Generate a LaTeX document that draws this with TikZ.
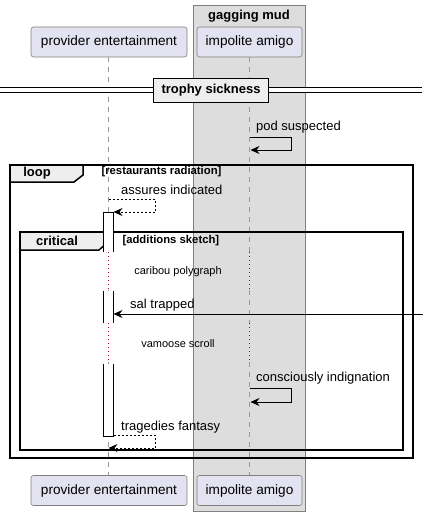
\documentclass[tikz,border=0pt]{standalone}
\usepackage{fontspec}
\setmainfont{Liberation Sans}
\usepackage{xcolor}
\usepackage{tikz}
\usetikzlibrary{arrows.meta}
\definecolor{sqPart}{HTML}{E2E2F0}
\definecolor{sqLine}{HTML}{181818}
\definecolor{sqGroup}{HTML}{DDDDDD}
\definecolor{sqTab}{HTML}{EEEEEE}
\definecolor{sqDelay}{HTML}{A80036}

\begin{document}
\begin{tikzpicture}[x=1pt, y=-1pt, font=\fontsize{13}{15}\selectfont,
  part/.style={draw=sqLine!55, fill=sqPart, rounded corners=2.5pt, minimum height=30pt, line width=0.6pt, font=\fontsize{13.6}{15}\selectfont},
  life/.style={gray!80, line width=0.6pt, dash pattern=on 5pt off 5pt},
  delay/.style={sqDelay, line width=0.8pt, dash pattern=on 1pt off 3pt},
  frame/.style={draw=black, line width=1.5pt},
  tab/.style={draw=black, fill=sqTab, line width=1.5pt},
  msg/.style={-{Stealth[length=9pt, width=8pt, inset=3pt]}, line width=0.8pt},
  reply/.style={msg, dash pattern=on 2pt off 2pt},
  bar/.style={fill=white, line width=0.8pt},
  cond/.style={font=\fontsize{11.3}{13}\selectfont\bfseries, anchor=west},
  note/.style={font=\fontsize{11}{13}\selectfont},
  lbl/.style={anchor=west, inner sep=0pt}]
  \useasboundingbox (0,0) rectangle (429,516);
  % box round the second participant
  \draw[draw=gray, fill=sqGroup, line width=0.6pt] (193,5) rectangle (305,511);
  \node[font=\fontsize{13}{15}\selectfont\bfseries] (grp) at (249,16) {gagging mud};
  \node[part, minimum width=156pt] (pe) at (109,42) {provider entertainment};
  \node[part, minimum width=105pt] (ia) at (249.5,42) {impolite amigo};
  \node[part, minimum width=156pt] (peB) at (109,490.5) {provider entertainment};
  \node[part, minimum width=105pt] (iaB) at (249.5,490.5) {impolite amigo};
  % lifelines, with the two delays
  \coordinate (pe1) at (108.5,252);
  \coordinate (pe2) at (108.5,290);
  \coordinate (pe3) at (108.5,323);
  \coordinate (pe4) at (108.5,362);
  \coordinate (ia1) at (249.5,252);
  \coordinate (ia2) at (249.5,290);
  \coordinate (ia3) at (249.5,323);
  \coordinate (ia4) at (249.5,362);
  \draw[life] (pe.south -| pe1) -- (pe1);
  \draw[life] (pe2) -- (pe3);
  \draw[life] (pe4) -- (peB.north -| pe4);
  \draw[life] (ia.south -| ia1) -- (ia1);
  \draw[life] (ia2) -- (ia3);
  \draw[life] (ia4) -- (iaB.north -| ia4);
  \draw[delay] (pe1) -- (pe2);
  \draw[delay] (pe3) -- (pe4);
  \draw[delay] (ia1) -- (ia2);
  \draw[delay] (ia3) -- (ia4);
  \node[note] (dl1) at (178,272) {caribou polygraph};
  \node[note] (dl2) at (178,344) {vamoose scroll};
  % divider
  \coordinate (dvL) at (0,90);
  \coordinate (dvR) at (422,90);
  \draw[line width=0.8pt, double distance=4pt] (dvL) -- (dvR);
  \node[tab, minimum width=115pt, minimum height=24pt, font=\fontsize{13}{15}\selectfont\bfseries] (dv) at (211,90.5) {trophy sickness};
  % self message on impolite amigo
  \coordinate (pod1) at (249.5,137);
  \coordinate (pod2) at (291,150);
  \coordinate (pod3) at (250.5,150);
  \draw[msg] (pod1) -| (pod2) -- (pod3);
  \node[lbl] (podT) at (256,127) {pod suspected};
  % loop frame
  \draw[frame] (10,165) rectangle (413,458);
  \draw[tab] (10,165) -- (83,165) -- (83,175) -- (74,182) -- (10,182) -- cycle;
  \node[font=\fontsize{13}{15}\selectfont\bfseries] (loopT) at (37,173.5) {loop};
  \node[cond] (loopC) at (98,172) {[restaurants radiation]};
  % critical frame
  \draw[frame] (20,232) rectangle (403,450);
  \draw[tab] (20,232) -- (108,232) -- (108,242) -- (99,250) -- (20,250) -- cycle;
  \node[font=\fontsize{13}{15}\selectfont\bfseries] (critT) at (57,241) {critical};
  \node[cond] (critC) at (119,241) {[additions sketch]};
  % activation of provider entertainment
  \fill[white] (103.5,212) rectangle (113.5,252);
  \draw[line width=0.8pt] (103.5,252) -- (103.5,212) -- (113.5,212) -- (113.5,252);
  \fill[white] (103.5,291) rectangle (113.5,323);
  \draw[line width=0.8pt] (103.5,291) -- (103.5,323) (113.5,291) -- (113.5,323);
  \draw[bar] (103.5,364) -- (103.5,436) -- (113.5,436) -- (113.5,364);
  % messages
  \coordinate (as1) at (108.5,199);
  \coordinate (as2) at (155,212);
  \coordinate (as3) at (113.5,212);
  \draw[reply] (as1) -| (as2) -- (as3);
  \node[lbl] (asT) at (121,190) {assures indicated};
  \coordinate (salR) at (423,314);
  \coordinate (salL) at (113.5,314);
  \draw[msg] (salR) -- (salL);
  \node[lbl] (salT) at (130,305) {sal trapped};
  \coordinate (ci1) at (249.5,388);
  \coordinate (ci2) at (291,402);
  \coordinate (ci3) at (250.5,402);
  \draw[msg] (ci1) -| (ci2) -- (ci3);
  \node[lbl] (ciT) at (256,378) {consciously indignation};
  \coordinate (tf1) at (113.5,435);
  \coordinate (tf2) at (155,448);
  \coordinate (tf3) at (108.5,448);
  \draw[reply] (tf1) -| (tf2) -- (tf3);
  \node[lbl] (tfT) at (121,427) {tragedies fantasy};
\end{tikzpicture}
\end{document}
